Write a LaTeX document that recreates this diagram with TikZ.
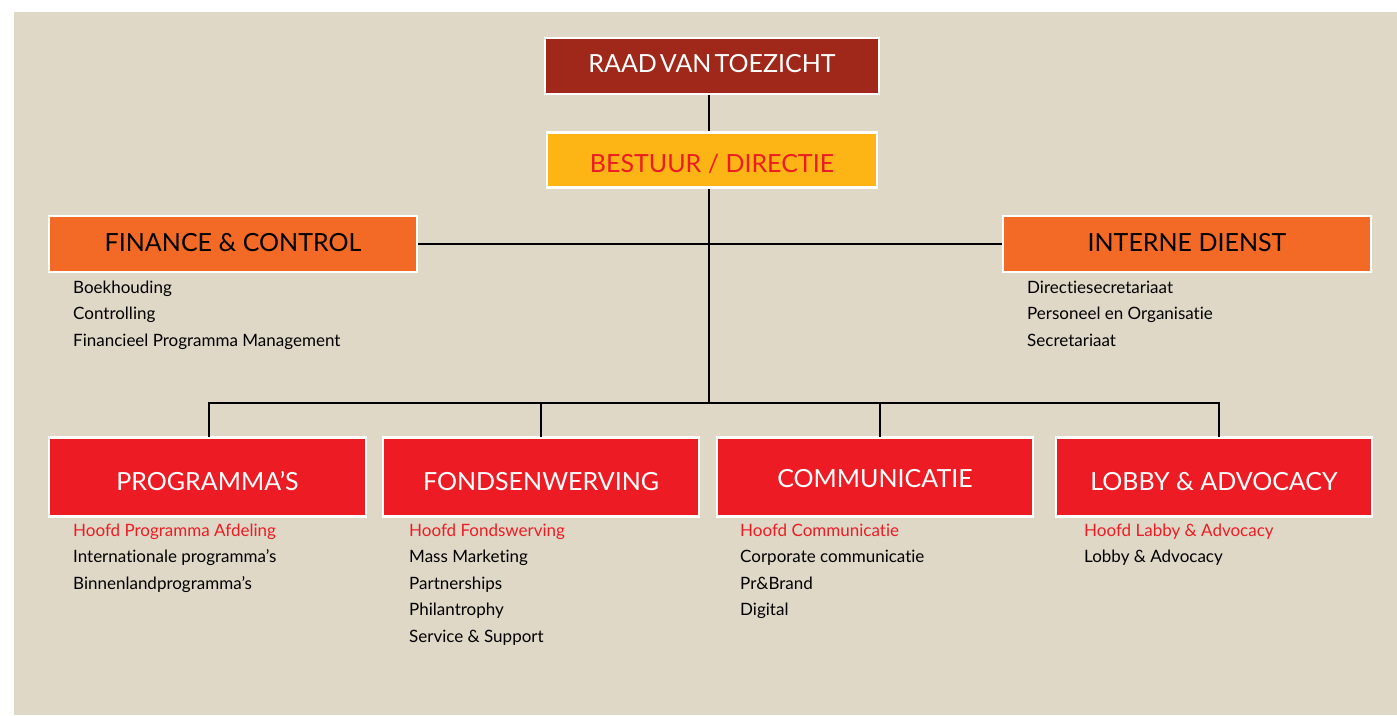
\documentclass[tikz,border=0pt]{standalone}
\usepackage{fontspec}
\setmainfont[Ligatures={NoCommon}]{Lato}
\definecolor{bg}{HTML}{DFD8C7}
\definecolor{raad}{HTML}{A0281A}
\definecolor{gold}{HTML}{FDB515}
\definecolor{orng}{HTML}{F26A25}
\definecolor{rred}{HTML}{ED1C24}
\tikzset{
  box/.style={draw=white, line width=2.5pt, inner sep=0pt, text depth=0pt, font=\fontsize{25}{28}\selectfont},
  item/.style={anchor=base west, inner sep=0pt, font=\fontsize{17}{20}\selectfont, text=black},
  head/.style={item, text=rred},
  conn/.style={line width=2pt, black},
}
\begin{document}
\begin{tikzpicture}[x=1pt,y=-1pt]
\useasboundingbox (0,0) rectangle (1397,715);
\fill[bg] (14,12) rectangle (1397,715);
% top boxes
\node[box, fill=raad, text=white, text height=12pt, minimum width=334, minimum height=56] (raad) at (712,66) {RAAD\hspace{0.12em}VAN\hspace{0.12em}TOEZICHT};
\node[box, fill=gold, text=rred, text height=24pt, minimum width=330, minimum height=55] (best) at (712,160) {BESTUUR / DIRECTIE};
\node[box, fill=orng, text=black, text height=14pt, minimum width=368, minimum height=56] (fin) at (233,244) {FINANCE \& CONTROL};
\node[box, fill=orng, text=black, text height=14pt, minimum width=368, minimum height=56] (intd) at (1187,244) {INTERNE DIENST};
% bottom boxes
\node[box, fill=rred, text=white, text height=27pt, minimum width=317, minimum height=79] (prog) at (207.5,477) {PROGRAMMA'S};
\node[box, fill=rred, text=white, text height=27pt, minimum width=316, minimum height=79] (fonds) at (541,477) {FONDSENWERVING};
\node[box, fill=rred, text=white, text height=21pt, minimum width=316, minimum height=79] (comm) at (875,477) {COMMUNICATIE};
\node[box, fill=rred, text=white, text height=27pt, minimum width=316, minimum height=79] (lobby) at (1214,477) {LOBBY \& ADVOCACY};
% connectors
\coordinate (hub) at (709,403);
\coordinate (d1) at (209,437);
\coordinate (d2) at (541,437);
\coordinate (d3) at (880,437);
\coordinate (d4) at (1219,437);
\draw[conn] (raad.south -| hub) -- (best.north -| hub);
\draw[conn] (best.south -| hub) -- (hub);
\draw[conn] (fin.east) -- (intd.west);
\draw[conn] (d1) -- (d1 |- hub) -- (d4 |- hub) -- (d4);
\draw[conn] (d2) -- (d2 |- hub);
\draw[conn] (d3) -- (d3 |- hub);
% lists
\node[item] (f1) at (73,293) {Boekhouding};
\node[item] (f2) at (73,319.5) {Controlling};
\node[item] (f3) at (73,346) {Financieel Programma Management};
\node[item] (i1) at (1027,293) {Directiesecretariaat};
\node[item] (i2) at (1027,319.5) {Personeel en Organisatie};
\node[item] (i3) at (1027,346) {Secretariaat};
\node[head] (p0) at (73,536) {Hoofd Programma Afdeling};
\node[item] (p1) at (73,562.5) {Internationale programma's};
\node[item] (p2) at (73,589) {Binnenlandprogramma's};
\node[head] (w0) at (409,536) {Hoofd Fondswerving};
\node[item] (w1) at (409,562.5) {Mass Marketing};
\node[item] (w2) at (409,589) {Partnerships};
\node[item] (w3) at (409,615.5) {Philantrophy};
\node[item] (w4) at (409,642) {Service \& Support};
\node[head] (c0) at (740,536) {Hoofd Communicatie};
\node[item] (c1) at (740,562.5) {Corporate communicatie};
\node[item] (c2) at (740,589) {Pr\&Brand};
\node[item] (c3) at (740,615.5) {Digital};
\node[head] (l0) at (1084,536) {Hoofd Labby \& Advocacy};
\node[item] (l1) at (1084,562.5) {Lobby \& Advocacy};
\end{tikzpicture}
\end{document}
